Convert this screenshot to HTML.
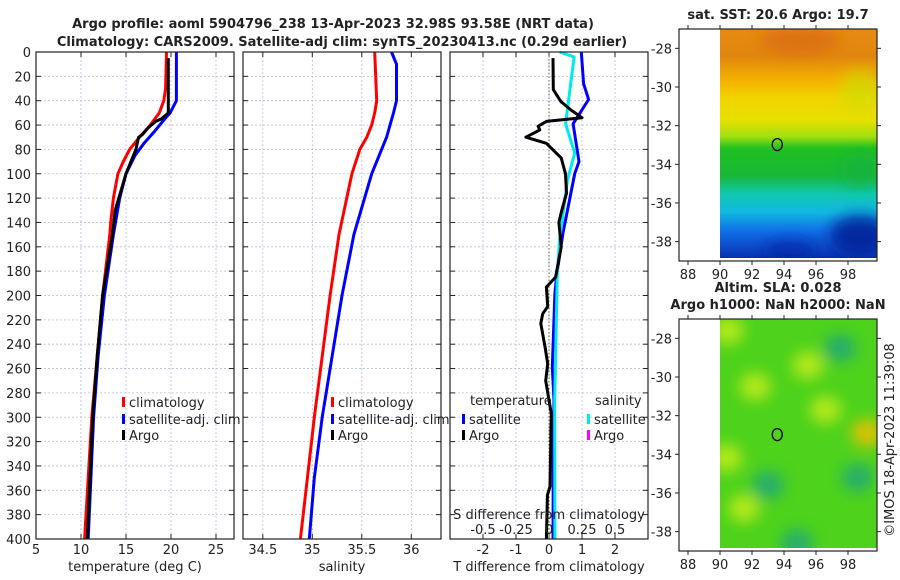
<!DOCTYPE html>
<html><head><meta charset="utf-8">
<style>
html,body{margin:0;padding:0;background:#fff;}
svg{display:block;font-family:"DejaVu Sans","Liberation Sans",sans-serif;}
</style></head>
<body>
<svg id="fig" width="900" height="580" viewBox="0 0 900 580" xmlns="http://www.w3.org/2000/svg">
<defs>
<linearGradient id="sstGrad" x1="0" y1="0" x2="0" y2="1">
<stop offset="0" stop-color="#e88a10"/>
<stop offset="0.12" stop-color="#e0860e"/>
<stop offset="0.22" stop-color="#f4b000"/>
<stop offset="0.3" stop-color="#f2d400"/>
<stop offset="0.4" stop-color="#e6e000"/>
<stop offset="0.47" stop-color="#a0e010"/>
<stop offset="0.52" stop-color="#20c020"/>
<stop offset="0.64" stop-color="#18b838"/>
<stop offset="0.72" stop-color="#10c8b0"/>
<stop offset="0.8" stop-color="#10b8e0"/>
<stop offset="0.88" stop-color="#1070e8"/>
<stop offset="1" stop-color="#0830b0"/>
</linearGradient>
<filter id="blur8"><feGaussianBlur stdDeviation="7"/></filter>
<clipPath id="clipTop"><rect x="720" y="29" width="157" height="229"/></clipPath>
<clipPath id="clipBot"><rect x="720" y="319" width="157" height="229"/></clipPath>
</defs>
</svg>
<script>
// ---- data ----
const depthTicks=[0,20,40,60,80,100,120,140,160,180,200,220,240,260,280,300,320,340,360,380,400];
const tempTicks=[5,10,15,20,25];
const salTicks=[34.5,35,35.5,36];
const tdiffTicks=[-2,-1,0,1,2];
const sdiffTicks=[-0.5,-0.25,0,0.25,0.5];
const sdiffTickLabels=["-0.5","-0.25","0","0.25","0.5"];
const lonTicks=[88,90,92,94,96,98];
const latTicks=[-28,-30,-32,-34,-36,-38];

const tClimDepth=[0,30,40,50,60,70,80,90,100,120,140,150,200,250,300,350,400];
const tClimVal=[19.5,19.4,19.2,18.7,17.7,16.5,15.4,14.7,14.1,13.6,13.3,13.2,12.4,11.8,11.2,10.8,10.4];
const tSatDepth=[0,40,50,55,65,75,85,100,120,150,200,250,300,350,400];
const tSatVal=[20.6,20.6,19.9,19.3,18.2,17.0,16.0,15.0,14.3,13.6,12.6,11.9,11.4,11.1,10.8];
const tArgoDepth=[5,50,55,57,62,68,70,80,100,130,150,200,250,300,350,400];
const tArgoVal=[19.7,19.7,18.9,18.3,17.5,16.8,16.4,16.1,15.0,13.8,13.5,12.4,11.8,11.3,11.0,10.7];

const sClimDepth=[0,40,50,60,70,80,100,150,200,250,300,350,400];
const sClimVal=[35.63,35.65,35.63,35.60,35.55,35.48,35.40,35.27,35.18,35.10,35.02,34.95,34.88];
const sSatDepth=[0,10,40,50,70,100,150,200,250,300,350,400];
const sSatVal=[35.80,35.85,35.85,35.82,35.75,35.60,35.42,35.30,35.20,35.10,35.02,34.97];

const dTsatDepth=[0,26,39,59,90,100,149,182,198,259,286,330,400];
const dTsatVal=[0.98,1.05,1.2,0.73,0.91,0.78,0.42,0.24,0.18,0.1,0.15,0.13,0.12];
const dSsatDepth=[0,4,59,83,105,154,182,286,400];
const dSsatVal=[0.08,0.19,0.126,0.195,0.14,0.08,0.063,0.043,0.045];
const dTargoDepth=[5,31,41,48,54,57,61,64,70,75,87,100,116,132,140,160,185,193,209,215,223,242,256,270,297,330,357,364,400];
const dTargoVal=[0.12,0.13,0.37,0.68,1.0,-0.08,-0.33,-0.28,-0.7,-0.08,0.37,0.5,0.53,0.37,0.3,0.37,0.2,-0.08,-0.04,-0.19,-0.25,-0.12,-0.04,-0.1,0.07,0.05,0.03,-0.05,-0.08];

const floatLon=93.58, floatLat=-32.98;
const slaBlobLon=[90.5,92.2,96.6,99.2,98.6,93.0,94.8,90.4,97.5,91.5,95.5];
const slaBlobLat=[-27.6,-30.5,-31.7,-32.9,-35.2,-35.6,-38.6,-34.2,-28.5,-36.8,-29.4];
const slaBlobVal=[1,1,1,1.4,-1,-1,-1,1,-1,1,1];

// ---- helpers ----
const NS="http://www.w3.org/2000/svg";
const svg=document.getElementById('fig');
function mk(tag,attrs,parent){const e=document.createElementNS(NS,tag);for(const k in attrs)e.setAttribute(k,attrs[k]);(parent||svg).appendChild(e);return e;}
function txt(s,x,y,size,anchor,weight,parent){const t=mk('text',{x:x,y:y,'font-size':size,'text-anchor':anchor||'start','font-weight':weight||'normal',fill:'#222'},parent);t.textContent=s;return t;}

const PY0=52, PY1=539;
const yD=d=>PY0+(d/400)*(PY1-PY0);

function panel(name,x0,x1,dmin,dmax,ticks,labels,xlabel,showY){
  const g=mk('g',{});
  
  
  const xs=v=>x0+(v-dmin)/(dmax-dmin)*(x1-x0);
  depthTicks.forEach(d=>{const l=mk('line',{x1:x0,x2:x1,y1:yD(d),y2:yD(d),stroke:'#b8bede','stroke-width':0.8,'stroke-dasharray':'2,2'},g);
    });
  ticks.forEach(v=>{const l=mk('line',{x1:xs(v),x2:xs(v),y1:PY0,y2:PY1,stroke:'#b8bede','stroke-width':0.8,'stroke-dasharray':'2,2'},g);
    });
  depthTicks.forEach(d=>{mk('line',{x1:x0,x2:x0+5,y1:yD(d),y2:yD(d),stroke:'#222'},g);mk('line',{x1:x1-5,x2:x1,y1:yD(d),y2:yD(d),stroke:'#222'},g);
    if(showY){const t=txt(String(d),x0-5,yD(d)+5,13,'end','normal',g);}});
  ticks.forEach((v,i)=>{mk('line',{x1:xs(v),x2:xs(v),y1:PY1-5,y2:PY1,stroke:'#222'},g);mk('line',{x1:xs(v),x2:xs(v),y1:PY0,y2:PY0+5,stroke:'#222'},g);
    const t=txt(labels[i],xs(v),PY1+15,13,'middle','normal',g);});
  const xl=txt(xlabel,(x0+x1)/2,PY1+32,13,'middle','normal',g);
  
  return {g,xs};
}
function frame(name,x0,x1){const r=mk('rect',{x:x0,y:PY0,width:x1-x0,height:PY1-PY0,fill:'none',stroke:'#222','stroke-width':1.2});
  }
function line(g,name,xs,ds,vs,color,w,fn){
  const pts=ds.map((d,i)=>xs(fn?fn(vs[i]):vs[i]).toFixed(1)+','+yD(d).toFixed(1)).join(' ');
  const p=mk('polyline',{points:pts,fill:'none',stroke:color,'stroke-width':w||3,'stroke-linejoin':'round'},g);
  return p;}
function legend(g,name,x,y,color,label){
  const lg=mk('g',{},g);
  mk('rect',{x:x,y:y-8,width:3,height:10,fill:color},lg);
  txt(label,x+7,y+2,13,'start','normal',lg);}

const t1=txt('Argo profile: aoml 5904796_238 13-Apr-2023 32.98S 93.58E (NRT data)',333,28,13,'middle','bold');

const t2=txt('Climatology: CARS2009. Satellite-adj clim: synTS_20230413.nc (0.29d earlier)',342,46,13,'middle','bold');


const p1=panel('temperature-panel',36,234,5,27,tempTicks,tempTicks.map(String),'temperature (deg C)',true);
line(p1.g,'temp-climatology-line',p1.xs,tClimDepth,tClimVal,'#ff0000');
line(p1.g,'temp-satellite-line',p1.xs,tSatDepth,tSatVal,'#0000ff');
line(p1.g,'temp-argo-line',p1.xs,tArgoDepth,tArgoVal,'#000000');
frame('temperature-frame',36,234);
legend(p1.g,'legend-climatology',122,405,'#ff0000','climatology');
legend(p1.g,'legend-satellite-adj',122,422,'#0000ff','satellite-adj. clim');
legend(p1.g,'legend-argo',122,438,'#000000','Argo');

const p2=panel('salinity-panel',243,441,34.3,36.3,salTicks,['34.5','35','35.5','36'],'salinity',false);
line(p2.g,'sal-climatology-line',p2.xs,sClimDepth,sClimVal,'#ff0000');
line(p2.g,'sal-satellite-line',p2.xs,sSatDepth,sSatVal,'#0000ff');
frame('salinity-frame',243,441);
legend(p2.g,'legend-climatology-sal',331,405,'#ff0000','climatology');
legend(p2.g,'legend-satellite-adj-sal',331,422,'#0000ff','satellite-adj. clim');
legend(p2.g,'legend-argo-sal',331,438,'#000000','Argo');

const p3=panel('difference-panel',450,648,-3,3,tdiffTicks,tdiffTicks.map(String),'T difference from climatology',false);
const zl=mk('line',{x1:p3.xs(0),x2:p3.xs(0),y1:PY0,y2:PY1,stroke:'#556b2f','stroke-width':1,'stroke-dasharray':'1.5,2'},p3.g);

line(p3.g,'tdiff-satellite-line',p3.xs,dTsatDepth,dTsatVal,'#0000ff');
line(p3.g,'sdiff-satellite-line',p3.xs,dSsatDepth,dSsatVal,'#00e8f0',3,v=>v*4);
line(p3.g,'tdiff-argo-line',p3.xs,dTargoDepth,dTargoVal,'#000000');
frame('difference-frame',450,648);
const lt=txt('temperature',470,405,13,'start','normal',p3.g);
const ls=txt('salinity',595,405,13,'start','normal',p3.g);
legend(p3.g,'legend-tdiff-satellite',462,422,'#0000ff','satellite');
legend(p3.g,'legend-tdiff-argo',462,438,'#000000','Argo');
legend(p3.g,'legend-sdiff-satellite',587,422,'#00e8f0','satellite');
legend(p3.g,'legend-sdiff-argo',587,438,'#ff00ff','Argo');
const st=txt('S difference from climatology',549,519,13,'middle','normal',p3.g);

sdiffTicks.forEach((v,i)=>{const t=txt(sdiffTickLabels[i],p3.xs(v*4),534,13,'middle','normal',p3.g);
  });

function map(name,fy0,titleLines,fill){
  const g=mk('g',{});
  const fx0=679,fx1=877,fy1=fy0+232;
  const lx=v=>720+(v-90)*16, ly=v=>fy0+(-27-v)*19.33;
  titleLines.forEach((s,i)=>{const t=txt(s,778,fy0-10-(titleLines.length-1-i)*17,13,'middle','bold',g);
    });
  fill(g,lx,ly,fy0);
  mk('rect',{x:fx0,y:fy0,width:fx1-fx0,height:232,fill:'none',stroke:'#222','stroke-width':1.2},g);
  lonTicks.forEach(v=>{mk('line',{x1:lx(v),x2:lx(v),y1:fy1,y2:fy1+4,stroke:'#222'},g);mk('line',{x1:lx(v),x2:lx(v),y1:fy0,y2:fy0-4,stroke:'#222'},g);
    const t=txt(String(v),lx(v),fy1+18,13,'middle','normal',g);});
  latTicks.forEach(v=>{mk('line',{x1:fx0-4,x2:fx0,y1:ly(v),y2:ly(v),stroke:'#222'},g);mk('line',{x1:fx1,x2:fx1+4,y1:ly(v),y2:ly(v),stroke:'#222'},g);
    const t=txt(String(v),fx0-7,ly(v)+5,13,'end','normal',g);});
  const c=mk('ellipse',{cx:lx(floatLon),cy:ly(floatLat),rx:5,ry:6,fill:'none',stroke:'#000','stroke-width':1.3},g);
  
}
map('sst-map',29,['sat. SST: 20.6 Argo: 19.7'],(g,lx,ly,fy0)=>{
  const r=mk('rect',{x:720,y:fy0,width:157,height:229,fill:'url(#sstGrad)'},g);
  
  const b=mk('g',{'clip-path':'url(#clipTop)',filter:'url(#blur8)'},g);
  mk('ellipse',{cx:800,cy:40,rx:40,ry:14,fill:'#d86a0a',opacity:0.7},b);
  mk('ellipse',{cx:860,cy:235,rx:30,ry:20,fill:'#001890',opacity:0.8},b);
  mk('ellipse',{cx:790,cy:250,rx:25,ry:10,fill:'#0020a0',opacity:0.6},b);
  mk('ellipse',{cx:860,cy:170,rx:20,ry:18,fill:'#18b040',opacity:0.6},b);
  mk('ellipse',{cx:860,cy:90,rx:20,ry:20,fill:'#c8e000',opacity:0.6},b);
});
map('sla-map',319,['Altim. SLA: 0.028','Argo h1000: NaN h2000: NaN'],(g,lx,ly,fy0)=>{
  const r=mk('rect',{x:720,y:fy0,width:157,height:229,fill:'#4ed21c'},g);
  
  const b=mk('g',{'clip-path':'url(#clipBot)',filter:'url(#blur8)'},g);
  slaBlobLon.forEach((lo,i)=>{const v=slaBlobVal[i];
    const e=mk('ellipse',{cx:lx(lo),cy:ly(slaBlobLat[i]),rx:16,ry:14,fill:v>1?'#f0c000':(v>0?'#c0ec18':'#20a878'),opacity:0.85},b);
    });
});

const cp=txt('©IMOS 18-Apr-2023 11:39:08',0,0,13,'middle','normal');
cp.setAttribute('transform','translate(894,440) rotate(-90)');

</script>
</body></html>
